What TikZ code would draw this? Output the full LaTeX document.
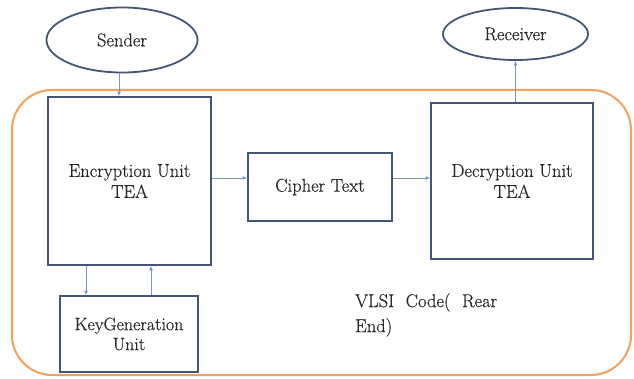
\documentclass[tikz,border=0pt]{standalone}
\usepackage{fontspec}
\newfontfamily\labelface{Latin Modern Roman}[FakeBold=0.5]
\usetikzlibrary{arrows.meta,shapes.geometric}
\definecolor{boxline}{RGB}{68,86,120}
\definecolor{linkline}{RGB}{118,148,198}
\definecolor{frameline}{RGB}{244,160,92}
\definecolor{inktext}{RGB}{40,40,40}
\newcommand{\labelsize}{\labelface\fontsize{18.5}{21}\selectfont}
\tikzset{
  unitbox/.style={draw=boxline, line width=1.8pt, rectangle, inner sep=0pt,
    align=center, text=inktext, font=\labelsize},
  endpoint/.style={draw=boxline, line width=1.8pt, ellipse, inner sep=0pt,
    text=inktext, font=\labelsize},
  link/.style={draw=linkline, line width=0.8pt,
    -{Latex[length=4.5pt,width=4pt]}},
  frame/.style={draw=frameline, line width=2pt, rounded corners=40pt},
  note/.style={inner sep=0pt, align=left, text=inktext,
    font=\labelface\fontsize{18.5}{25}\selectfont}
}
\begin{document}
\begin{tikzpicture}[x=1pt,y=-1pt]
\useasboundingbox (0,0) rectangle (634,379);
% hardware boundary
\draw[frame] (12,90) rectangle (631,375);
% end points
\node[endpoint, minimum width=151pt, minimum height=65pt] (sender) at (122,40) {Sender};
\node[endpoint, minimum width=145pt, minimum height=52pt] (receiver) at (515.5,34) {Receiver};
% processing units
\node[unitbox, minimum width=163pt, minimum height=168pt] (enc) at (129.5,181) {Encryption Unit\\TEA};
\node[unitbox, minimum width=144pt, minimum height=68pt] (cipher) at (320,187) {Cipher Text};
\node[unitbox, minimum width=162pt, minimum height=156pt] (dec) at (512,181) {Decryption Unit\\TEA};
\node[unitbox, minimum width=138pt, minimum height=76pt, font=\labelface\fontsize{18}{20}\selectfont] (keygen) at (129,334) {KeyGeneration\\Unit};
% label of the boundary
\node[note, anchor=north west] (vlsi) at (355,293) {\makebox[142pt][s]{VLSI Code( Rear}\\End)};
% data flow
\draw[link] ([xshift=-3pt]sender.south) -- ([xshift=-3pt]sender.south |- enc.north);
\draw[link] ([yshift=3pt]enc.east) -- ([yshift=3pt]enc.east -| cipher.west);
\draw[link] ([yshift=9pt]cipher.east) -- ([yshift=9pt]cipher.east -| dec.west);
\draw[link] (dec.north -| receiver.south) -- (receiver.south);
\draw[link] ([xshift=-43.5pt]enc.south) -- ([xshift=-43.5pt]enc.south |- keygen.north);
\draw[link] ([xshift=21.5pt]enc.south |- keygen.north) -- ([xshift=21.5pt]enc.south);
\end{tikzpicture}
\end{document}
